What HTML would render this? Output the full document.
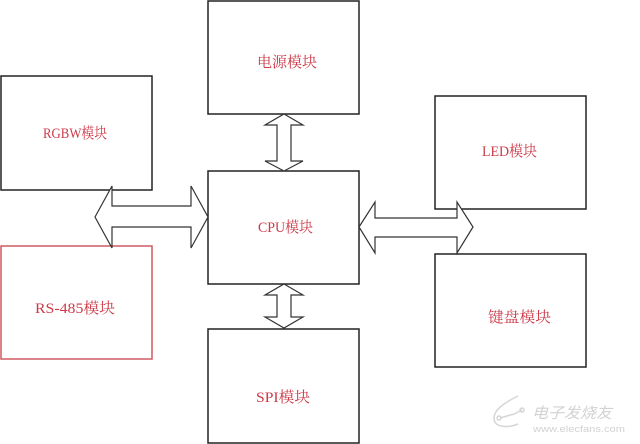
<!DOCTYPE html>
<html>
<head>
<meta charset="utf-8">
<style>
html,body{margin:0;padding:0;background:#fff;}
svg{display:block;}
.t{font-family:"Liberation Serif","Noto Serif CJK SC",serif;font-size:15px;fill:#cc3a48;}
</style>
</head>
<body>
<svg width="640" height="444" viewBox="0 0 640 444" xmlns="http://www.w3.org/2000/svg">
  <rect x="0" y="0" width="640" height="444" fill="#fff"/>
  <g fill="#fff" stroke="#222" stroke-width="1.5">
    <rect x="208" y="1" width="151" height="113"/>
    <rect x="1" y="76" width="151" height="114"/>
    <rect x="208" y="171" width="151" height="113"/>
    <rect x="208" y="329" width="151" height="114"/>
    <rect x="435" y="96" width="151" height="113"/>
    <rect x="435" y="254" width="151" height="113"/>
    <rect x="1" y="246" width="151" height="113" stroke="#d05a64"/>
  </g>
  <g fill="#fff" stroke="#333" stroke-width="1.2" stroke-linejoin="miter">
    <polygon points="95,217 112,186 112,206 191,206 191,186 208,217 191,248 191,227 112,227 112,248"/>
    <polygon points="359,227 375,202 375,218 457,218 457,202 473,227 457,253 457,237 375,237 375,253"/>
    <polygon points="284,114 303,125 291,125 291,161 303,161 284,171 265,161 277,161 277,125 265,125"/>
    <polygon points="284,284 303,295 291,295 291,317 303,317 284,328 265,317 277,317 277,295 265,295"/>
  </g>
  <text class="t" x="257" y="67" textLength="60" lengthAdjust="spacingAndGlyphs">电源模块</text>
  <text class="t" x="43" y="138" textLength="64" lengthAdjust="spacingAndGlyphs">RGBW模块</text>
  <text class="t" x="258" y="232" textLength="55" lengthAdjust="spacingAndGlyphs">CPU模块</text>
  <text class="t" x="35" y="313" textLength="80" lengthAdjust="spacingAndGlyphs">RS-485模块</text>
  <text class="t" x="256" y="402" textLength="54" lengthAdjust="spacingAndGlyphs">SPI模块</text>
  <text class="t" x="482" y="156" textLength="55" lengthAdjust="spacingAndGlyphs">LED模块</text>
  <text class="t" x="488" y="322" textLength="63" lengthAdjust="spacingAndGlyphs">键盘模块</text>
  <!-- watermark -->
  <g stroke="#d6d6d6" stroke-width="1.5" fill="none">
    <path d="M518,396 C510,400 494,408 494,418 C494,428 508,428 518,424"/>
    <path d="M500,418 L514,414 L522,410"/>
    <circle cx="499" cy="418" r="2"/>
    <circle cx="522" cy="410" r="2"/>
  </g>
  <text x="532" y="418" font-family="'Noto Sans CJK SC',sans-serif" font-size="15" fill="#d2d2d2" font-style="italic" textLength="80" lengthAdjust="spacingAndGlyphs">电子发烧友</text>
  <text x="533" y="432" font-family="'Liberation Sans',sans-serif" font-size="9" fill="#d2d2d2" textLength="92" lengthAdjust="spacingAndGlyphs">www.elecfans.com</text>
</svg>
</body>
</html>
